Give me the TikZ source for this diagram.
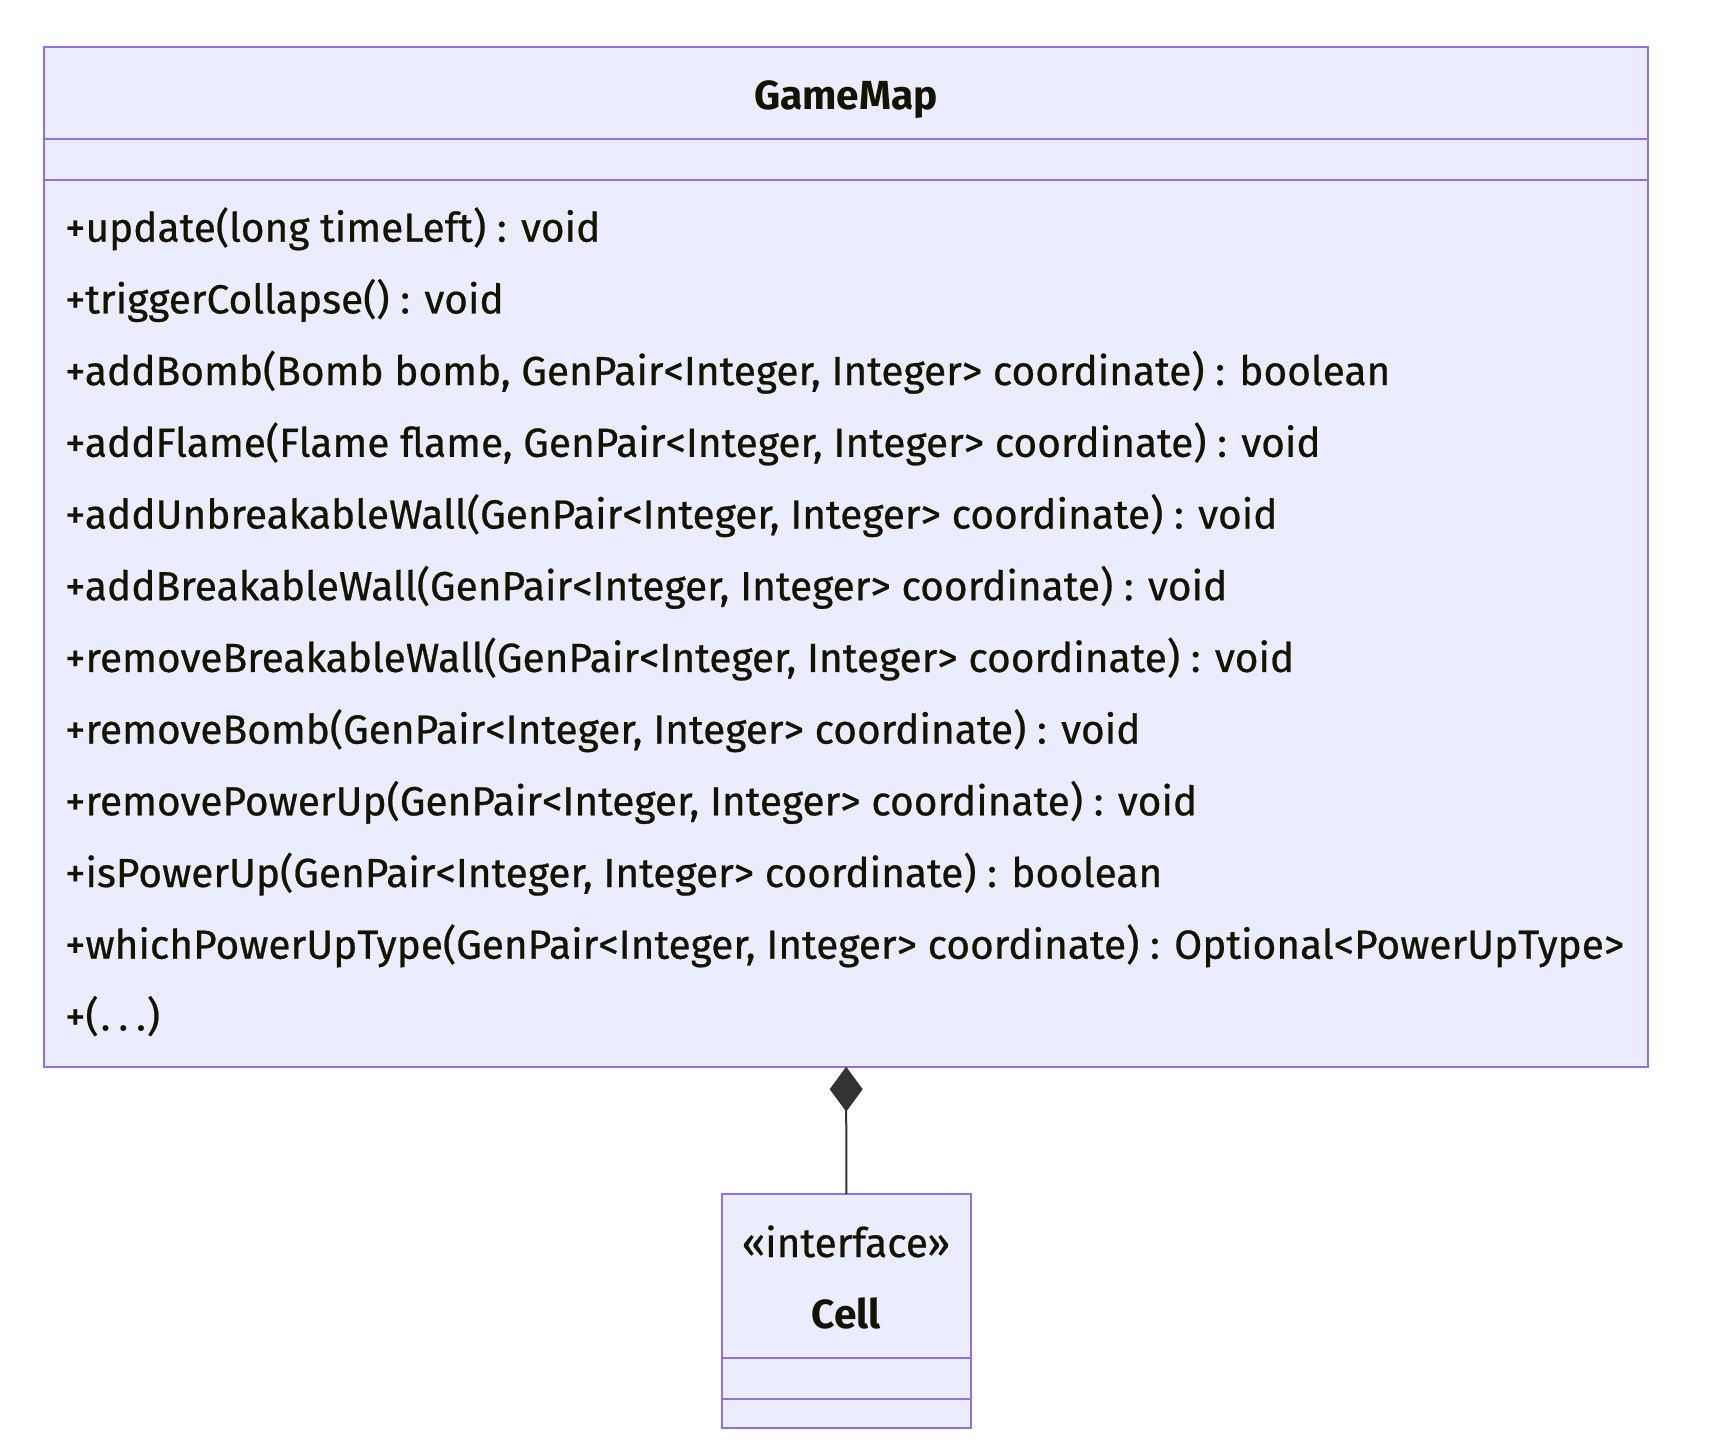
\documentclass[tikz,border=0pt]{standalone}
\usepackage{fontspec}
\setmainfont{Fira Sans}[UprightFeatures={FakeBold=0.6}]
\usetikzlibrary{arrows.meta}
\definecolor{umlfill}{HTML}{ECECFF}
\definecolor{umlline}{HTML}{9370DB}
\definecolor{umltext}{HTML}{131300}
\definecolor{connline}{HTML}{333333}
\newlength{\refw}
\begin{document}
\settowidth{\refw}{\fontsize{10pt}{12pt}\selectfont +whichPowerUpType(GenPair<Integer, Integer> coordinate) : Optional<PowerUpType>}%
\pgfmathsetmacro\fs{1559/\refw*10}%
\begin{tikzpicture}[x=1pt,y=-1pt]
\tikzset{
  classbox/.style={draw=umlline, fill=umlfill, line width=2.2pt, inner sep=0pt, outer sep=0pt, rectangle},
  divider/.style={draw=umlline, line width=2.2pt},
  mtext/.style={text=umltext, inner sep=0pt, font=\fontsize{\fs pt}{\fs pt}\selectfont},
  mline/.style={mtext, anchor=base west},
  ttext/.style={mtext, anchor=base, font=\fontsize{\fs pt}{\fs pt}\selectfont\bfseries},
  conn/.style={draw=connline, line width=2pt, -{Diamond[length=45pt,width=33pt,fill=connline]}}
}
\useasboundingbox (0,0) rectangle (1710,1454);
% GameMap box
\node[classbox, minimum width=1603.7pt, minimum height=1020pt] (gm) at (846.15,556.7) {};
\draw[divider] (44.3,138.7) -- (1648,138.7);
\draw[divider] (44.3,180) -- (1648,180);
\node[ttext] (gmtitle) at (846,109.3) {GameMap};
\node[mline] (m1) at (65,241.7) {+update(long timeLeft) : void};
\node[mline] (m2) at (65,313.4) {+triggerCollapse() : void};
\node[mline] (m3) at (65,385.1) {+addBomb(Bomb bomb, GenPair<Integer, Integer> coordinate) : boolean};
\node[mline] (m4) at (65,456.8) {+addFlame(Flame flame, GenPair<Integer, Integer> coordinate) : void};
\node[mline] (m5) at (65,528.5) {+addUnbreakableWall(GenPair<Integer, Integer> coordinate) : void};
\node[mline] (m6) at (65,600.2) {+addBreakableWall(GenPair<Integer, Integer> coordinate) : void};
\node[mline] (m7) at (65,671.9) {+removeBreakableWall(GenPair<Integer, Integer> coordinate) : void};
\node[mline] (m8) at (65,743.6) {+removeBomb(GenPair<Integer, Integer> coordinate) : void};
\node[mline] (m9) at (65,815.3) {+removePowerUp(GenPair<Integer, Integer> coordinate) : void};
\node[mline] (m10) at (65,887.0) {+isPowerUp(GenPair<Integer, Integer> coordinate) : boolean};
\node[mline] (m11) at (65,958.7) {+whichPowerUpType(GenPair<Integer, Integer> coordinate) : Optional<PowerUpType>};
\node[mline] (m12) at (65,1030.4) {+(\kern2pt.\kern8pt.\kern8pt.\kern1pt)};
% Cell box
\node[classbox, minimum width=249.3pt, minimum height=233.7pt] (cell) at (846.35,1310.85) {};
\draw[divider] (721.7,1358) -- (971,1358);
\draw[divider] (721.7,1399) -- (971,1399);
\node[mtext, anchor=base] (cellstereo) at (846,1257) {«interface»};
\node[ttext] (celltitle) at (846,1328) {Cell};
% composition
\draw[conn] (cell.north) -- (gm.south);
\end{tikzpicture}
\end{document}
